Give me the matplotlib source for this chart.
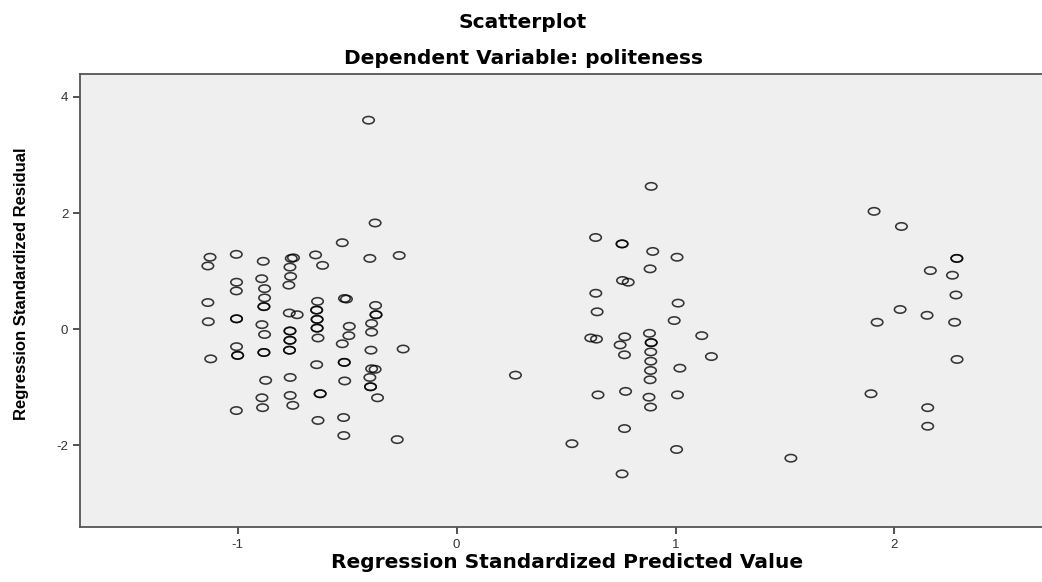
import matplotlib
matplotlib.use("Agg")
import matplotlib.pyplot as plt
import numpy as np
from matplotlib.path import Path
from matplotlib.transforms import Affine2D
from matplotlib import font_manager

plt.rcParams['axes.unicode_minus'] = False

# Regression Standardized Predicted Value (x) / Residual (y)
pred_left = [-0.402, -0.372, -0.522, -1.126, -1.136, -1.006, -0.883, -0.755, -0.745, -0.761,
             -0.758, -0.766, -0.644, -0.612, -0.396, -0.262, -1.005, -1.006, -0.890, -0.877,
             -0.877, -1.136, -0.635, -0.512, -0.503, -0.370, -0.880, -0.880, -1.134, -1.005,
             -1.005, -0.764, -0.728, -0.639, -0.639, -0.637, -0.637, -0.637, -0.637, -0.633,
             -0.368, -0.368, -0.388, -0.388, -0.490, -0.492, -0.522, -0.889, -0.877, -0.761,
             -0.761, -0.761, -0.761, -0.763, -0.763, -1.005, -1.000, -1.000, -0.880, -0.880,
             -1.123, -0.391, -0.244, -0.639, -0.513, -0.513, -0.388, -0.372, -0.396, -0.393,
             -0.393, -0.361, -0.872, -0.760, -0.511, -0.889, -0.886, -0.760, -0.748, -0.623,
             -0.623, -1.006, -0.633, -0.516, -0.515, -0.271]
resid_left = [3.60, 1.83, 1.49, 1.24, 1.09, 1.29, 1.17, 1.22, 1.23, 1.07,
              0.91, 0.76, 1.28, 1.10, 1.22, 1.27, 0.81, 0.66, 0.87, 0.70,
              0.54, 0.46, 0.48, 0.53, 0.52, 0.41, 0.39, 0.39, 0.13, 0.18,
              0.18, 0.28, 0.25, 0.33, 0.33, 0.17, 0.17, 0.02, 0.02, -0.15,
              0.25, 0.25, 0.10, -0.05, 0.05, -0.11, -0.25, 0.08, -0.09, -0.03,
              -0.03, -0.19, -0.19, -0.36, -0.36, -0.30, -0.45, -0.45, -0.40, -0.40,
              -0.51, -0.36, -0.34, -0.61, -0.57, -0.57, -0.68, -0.69, -0.83, -0.99,
              -0.99, -1.18, -0.88, -0.83, -0.89, -1.18, -1.35, -1.14, -1.31, -1.11,
              -1.11, -1.40, -1.57, -1.52, -1.83, -1.90]

pred_mid = [0.889, 0.635, 0.756, 0.756, 0.896, 1.007, 0.884, 0.758, 0.784, 0.636,
            1.012, 0.642, 0.994, 1.120, 0.613, 0.639, 0.768, 0.747, 0.767, 0.881,
            0.889, 0.889, 0.887, 0.887, 0.886, 0.884, 1.164, 1.020, 0.269, 0.646,
            0.772, 0.879, 0.886, 1.009, 0.767, 0.527, 1.005, 0.756, 1.527]
resid_mid = [2.46, 1.58, 1.47, 1.47, 1.34, 1.24, 1.04, 0.84, 0.81, 0.62,
             0.45, 0.30, 0.15, -0.11, -0.15, -0.17, -0.13, -0.27, -0.44, -0.07,
             -0.23, -0.23, -0.39, -0.55, -0.71, -0.87, -0.47, -0.67, -0.79, -1.13,
             -1.07, -1.17, -1.34, -1.13, -1.71, -1.97, -2.07, -2.49, -2.22]

pred_right = [1.907, 2.032, 2.285, 2.285, 2.164, 2.265, 2.281, 2.026, 2.149, 1.921,
              2.275, 2.286, 1.893, 2.152, 2.152]
resid_right = [2.03, 1.77, 1.22, 1.22, 1.01, 0.93, 0.59, 0.34, 0.24, 0.12,
               0.12, -0.52, -1.11, -1.35, -1.67]

pred = np.array(pred_left + pred_mid + pred_right)
resid = np.array(resid_left + resid_mid + resid_right)

xticks = [-1, 0, 1, 2]
yticks = [-2, 0, 2, 4]

# fonts
names = {f.name for f in font_manager.fontManager.ttflist}
narrow = 'Liberation Sans Narrow' if 'Liberation Sans Narrow' in names else 'Liberation Sans'
ylab_size = 13 if narrow == 'Liberation Sans Narrow' else 12

fig = plt.figure(figsize=(10.42, 5.82), dpi=100)
fig.set_facecolor('white')
ax = fig.add_axes([80/1042, 1-527.3/582, 1-80/1042, (527.3-74.3)/582])
ax.set_facecolor('#efefef')

# SPSS draws the circles a bit wider than tall
ellipse = Path.unit_circle().transformed(Affine2D().scale(1.55, 1.0))
ax.scatter(pred, resid, marker=ellipse, s=68, facecolors='none',
           edgecolors='black', linewidths=1.15, alpha=0.78, zorder=3)

ax.set_xlim(-1.72, 2.674)
ax.set_ylim(-3.41, 4.39)
ax.set_xticks(xticks)
ax.set_yticks(yticks)
ax.tick_params(direction='out', length=5, width=1.3, color='#444444',
               labelsize=9.5, labelcolor='#333333')
for lab in ax.get_xticklabels() + ax.get_yticklabels():
    lab.set_family('Liberation Sans')

for side in ['left', 'top', 'bottom']:
    ax.spines[side].set_color('#555555')
    ax.spines[side].set_linewidth(1.3)
ax.spines['right'].set_visible(False)

fig.text(523/1042, 1-23/582, 'Scatterplot', ha='center', va='center',
         fontsize=14.5, fontweight='bold', family='DejaVu Sans')
fig.text(523/1042, 1-59/582, 'Dependent Variable: politeness', ha='center', va='center',
         fontsize=14.5, fontweight='bold', family='DejaVu Sans')
fig.text(567/1042, 1-562/582, 'Regression Standardized Predicted Value', ha='center',
         va='center', fontsize=14.5, fontweight='bold', family='DejaVu Sans')
fig.text(22/1042, 1-284/582, 'Regression Standardized Residual', ha='center', va='center',
         rotation=90, fontsize=ylab_size, fontweight='bold', family=narrow)

fig.savefig('out.png', dpi=100, facecolor='white')
